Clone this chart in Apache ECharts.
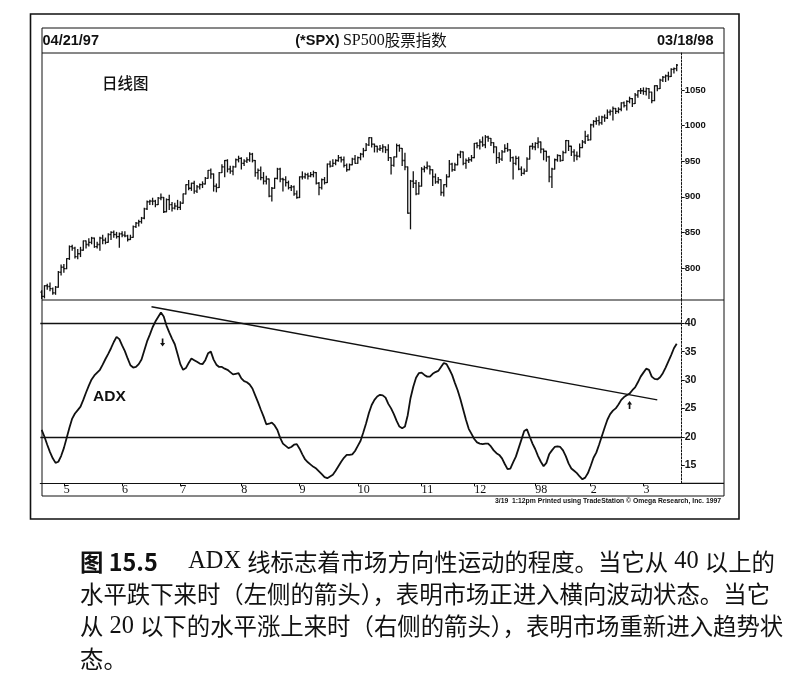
<!DOCTYPE html>
<html><head><meta charset="utf-8">
<script src="https://cdn.jsdelivr.net/npm/echarts@6/dist/echarts.min.js"></script>
<style>html,body{margin:0;padding:0;background:#fff}#c{width:790px;height:689px}</style>
</head><body><div id="c"></div>
<script>
// ---- Daily OHLC of SPX, 04/21/97 .. 03/18/98 ----
const op=[766,760,775,774,771,765,773,794,
801,799,813,830,828,816,820,825,838,833,836,842,830,833,842,839,836,847,850,847,844,
848,846,845,840,843,858,863,865,870,883,893,894,894,889,898,899,879,896,889,884,887,
885,891,904,917,912,919,908,914,917,918,926,937,932,915,913,934,942,951,939,936,942,952,
954,947,950,952,960,951,934,937,927,922,925,901,912,926,939,925,924,920,913,914,904,
899,928,928,931,929,931,934,919,913,924,920,946,943,947,951,955,952,944,938,945,953,
947,955,960,965,973,983,974,971,967,968,970,966,955,944,956,972,968,951,942,877,922,919,904,
915,939,941,943,938,928,921,924,906,917,928,946,938,945,959,963,947,951,952,
955,975,972,977,973,984,982,976,970,955,953,963,968,966,955,947,954,939,933,936,953,971,
970,975,977,967,964,956,928,939,952,958,951,962,979,971,963,958,957,969,977,985,
980,1001,1006,1007,1004,1012,1011,1019,1020,1024,1020,1023,1032,1028,1034,1038,1031,1043,1049,
1049,1048,1052,1047,1035,1056,1052,1064,1068,1070,1069,1079,1080];
const hi=[768,775,777,779,772,774,795,804,
805,813,831,832,829,826,829,838,838,841,843,842,836,843,846,842,848,851,852,850,849,
851,851,846,846,859,864,867,871,884,894,895,898,895,899,904,899,897,902,892,891,895,
893,904,917,923,919,922,916,918,921,927,937,939,932,918,934,945,951,952,943,943,953,957,
955,952,955,962,961,951,939,942,934,929,925,913,926,940,940,926,928,922,916,915,908,
928,935,933,933,934,936,934,920,925,927,946,950,952,952,958,956,956,946,946,954,958,
956,961,968,975,983,983,974,971,972,973,970,973,955,956,974,973,968,961,942,923,935,923,920,
941,943,949,943,938,932,927,924,917,931,951,947,947,960,964,963,953,955,958,
975,976,980,984,986,985,982,976,970,962,965,973,975,966,956,957,956,942,939,955,971,975,
976,983,977,967,964,957,940,953,959,958,964,979,979,971,966,963,974,979,992,987,
1002,1007,1011,1013,1013,1015,1022,1022,1026,1024,1025,1032,1033,1035,1040,1038,1045,1049,1052,
1053,1053,1052,1047,1056,1056,1065,1069,1071,1075,1080,1081,1086];
const lo=[757,758,770,768,763,763,773,790,
794,799,812,825,814,813,816,825,828,831,834,829,828,825,834,834,836,840,843,842,829,
844,844,838,840,843,857,859,863,869,882,889,889,886,889,896,878,879,882,880,883,882,
882,891,904,910,909,905,906,911,913,918,926,926,908,907,913,934,928,935,933,931,942,949,
939,944,948,950,949,929,925,924,918,918,900,894,912,925,921,908,915,911,909,902,898,
899,925,926,925,928,928,918,903,911,918,920,942,943,945,950,949,942,936,938,945,947,
947,952,956,965,972,970,963,963,965,963,962,951,932,943,956,964,944,938,877,855,913,903,904,
915,935,939,932,916,919,919,902,901,914,928,936,937,945,955,945,940,948,950,
955,969,967,971,969,978,972,962,947,948,951,963,964,950,925,945,938,930,932,936,953,967,
966,969,962,952,950,921,913,939,950,950,951,962,965,958,950,952,956,969,975,979,
980,998,1002,1001,1002,1006,1010,1015,1008,1017,1018,1021,1026,1022,1032,1027,1031,1040,1045,
1044,1043,1038,1032,1035,1049,1052,1062,1062,1064,1069,1074,1077];
const cl=[760,775,774,771,765,773,794,801,
799,813,830,828,816,820,825,838,833,836,842,830,833,842,839,836,847,850,847,844,848,
846,845,840,843,858,863,865,870,883,893,894,894,889,898,899,879,896,889,884,887,885,
891,904,917,912,919,908,914,917,918,926,937,932,915,913,934,942,951,939,936,942,952,954,
947,950,952,960,951,934,937,927,922,925,901,912,926,939,925,924,920,913,914,904,899,
928,928,931,929,931,934,919,913,924,920,946,943,947,951,955,952,944,938,945,953,947,
955,960,965,973,983,974,971,967,968,970,966,955,944,956,972,968,951,942,877,922,919,904,915,
939,941,943,938,928,921,924,906,917,928,946,938,945,959,963,947,951,952,955,
975,972,977,973,984,982,976,970,955,953,963,968,966,955,947,954,939,933,936,953,971,970,
975,977,967,964,956,928,939,952,958,951,962,979,971,963,958,957,969,977,985,980,
1001,1006,1007,1004,1012,1011,1019,1020,1024,1020,1023,1032,1028,1034,1038,1031,1043,1049,1049,
1048,1052,1047,1035,1056,1052,1064,1068,1070,1069,1079,1080,1085];
// ---- ADX, one value per trading day ----
const adx=[21.2,20.0,18.6,17.3,16.2,15.4,15.6,16.6,18.0,19.8,
21.6,23.2,24.1,24.7,25.3,26.5,27.8,29.0,30.1,30.8,
31.3,31.8,32.7,33.7,34.6,35.6,36.7,37.6,37.2,36.1,
35.1,33.8,32.6,32.2,32.3,32.8,33.6,35.2,36.8,38.0,
39.3,40.3,41.1,41.9,41.2,39.6,38.4,37.3,36.3,34.6,
32.8,31.8,32.1,33.0,33.8,33.5,33.2,32.9,32.8,33.5,
34.7,35.0,33.6,32.7,32.3,32.3,32.0,31.8,31.4,31.0,
31.1,31.2,30.3,29.8,29.6,29.2,28.5,27.3,26.1,24.8,
23.6,22.2,22.3,22.5,22.0,21.2,19.8,18.8,18.4,18.0,
18.2,18.6,18.7,17.9,16.9,16.0,15.5,15.1,14.7,14.4,
13.9,13.4,12.9,12.7,13.0,13.3,14.0,14.8,15.6,16.3,
16.8,16.8,16.9,17.5,18.4,19.3,20.8,22.4,24.2,25.6,
26.5,27.1,27.4,27.3,26.9,25.8,25.0,24.0,22.8,21.8,
21.5,21.8,23.8,26.8,28.8,30.4,31.2,31.3,30.9,30.6,
30.6,31.1,31.4,31.6,32.3,33.0,32.8,31.9,30.9,29.5,
28.2,26.6,24.8,23.0,21.4,20.5,19.6,19.0,18.8,18.7,
18.8,18.8,18.3,17.6,17.1,16.8,16.2,15.2,14.3,14.4,
15.5,16.5,18.0,19.5,21.0,21.3,20.0,18.8,17.8,16.6,
15.6,14.8,15.4,16.9,17.6,18.2,18.3,18.2,17.6,16.6,
15.3,14.4,14.0,13.6,13.0,12.5,12.8,13.6,14.9,16.3,
17.2,18.6,20.1,21.6,23.0,24.0,24.6,25.0,25.7,26.5,
27.0,27.3,27.6,28.2,28.7,29.6,30.6,31.3,32.0,31.8,
30.6,30.2,30.1,30.5,31.2,32.2,33.3,34.4,35.6,36.4];
// ---- axes / annotations ----
const monthStarts=[8,29,50,72,93,114,137,156,178,198,217];
const monthLabels=['5','6','7','8','9','10','11','12','98','2','3'];
const priceTicks=[800,850,900,950,1000,1050];
const adxTicks=[15,20,25,30,35,40];
const adxLevels=[20,40];
const trendLine=[[39.6,42.9],[222,26.5]];
const arrowDown=[43.6,36.6];
const arrowUp=[212,25.6];
const startDate='04/21/97', endDate='03/18/98';
const captionLines=[
 '{b|图 15.5}{s|     ADX }线标志着市场方向性运动的程度。当它从{s| 40 }以上的',
 '水平跌下来时（左侧的箭头），表明市场正进入横向波动状态。当它',
 '从{s| 20 }以下的水平涨上来时（右侧的箭头），表明市场重新进入趋势状',
 '态。'
];

const chart=echarts.init(document.getElementById('c'));
const bars=cl.map((c,i)=>[i,op[i],hi[i],lo[i],c]);
const L=40.3, AX=681.7, R=790-AX;
const SANS='"Liberation Sans", Arial, sans-serif';
const SERIF='"Liberation Serif", "Times New Roman", serif';
const CJK='"Noto Sans CJK SC", sans-serif';
const blk='#111';
const arrowPath='path://M2,0 L4,0 L4,5 L6,5 L3,9 L0,5 L2,5 Z';

function renderBar(params, api){
  const x=api.value(0);
  const pO=api.coord([x,api.value(1)]), pH=api.coord([x,api.value(2)]),
        pL=api.coord([x,api.value(3)]), pC=api.coord([x,api.value(4)]);
  const t=1.3, st={stroke:blk,lineWidth:1.3};
  return {type:'group',children:[
    {type:'line',shape:{x1:pH[0],y1:pH[1]-0.5,x2:pL[0],y2:pL[1]+0.5},style:st},
    {type:'line',shape:{x1:pO[0]-t,y1:pO[1],x2:pO[0],y2:pO[1]},style:st},
    {type:'line',shape:{x1:pC[0],y1:pC[1],x2:pC[0]+t,y2:pC[1]},style:st}
  ]};
}

const gText=(text,x,y,font,align,extra)=>Object.assign({type:'text',silent:true,
  style:Object.assign({text,x,y,font,fill:blk,textAlign:align||'left',textVerticalAlign:'middle'},extra||{})});
const gLine=(x1,y1,x2,y2,w)=>({type:'line',silent:true,shape:{x1,y1,x2,y2},style:{stroke:blk,lineWidth:w||1}});
const CAP=23.4;

const option={
  animation:false,
  backgroundColor:'#fff',
  grid:[{left:L,right:R,top:53,height:247},{left:L,right:R,top:300,height:183.3}],
  xAxis:[
    {type:'value',gridIndex:0,min:-0.5,max:230.8,show:false},
    {type:'value',gridIndex:1,min:-0.5,max:230.8,position:'bottom',
     axisLine:{show:true,onZero:false,lineStyle:{color:blk,width:1.2}},
     axisTick:{show:true,customValues:monthStarts,length:3,lineStyle:{color:blk}},
     axisLabel:{customValues:monthStarts,formatter:v=>monthLabels[monthStarts.indexOf(v)],
       align:'left',margin:1,color:blk,fontFamily:SERIF,fontSize:12},
     splitLine:{show:false}}
  ],
  yAxis:[
    {type:'value',gridIndex:0,position:'right',min:755,max:1102,
     axisLine:{show:true,onZero:false,lineStyle:{color:blk,width:1,type:[2,1.5]}},
     axisTick:{show:true,customValues:priceTicks,length:3,lineStyle:{color:blk}},
     axisLabel:{customValues:priceTicks,formatter:v=>String(v),margin:3,color:blk,fontFamily:SANS,fontWeight:'bold',fontSize:9.5},
     splitLine:{show:false}},
    {type:'value',gridIndex:1,position:'right',min:11.8,max:44.1,
     axisLine:{show:true,onZero:false,lineStyle:{color:blk,width:1,type:[2,1.5]}},
     axisTick:{show:true,customValues:adxTicks,length:3,lineStyle:{color:blk}},
     axisLabel:{customValues:adxTicks,formatter:v=>String(v),margin:3,color:blk,fontFamily:SANS,fontWeight:'bold',fontSize:10.5},
     splitLine:{show:false}}
  ],
  series:[
    {type:'custom',xAxisIndex:0,yAxisIndex:0,renderItem:renderBar,
     encode:{x:0,y:[1,2,3,4]},data:bars,silent:true},
    {type:'line',xAxisIndex:1,yAxisIndex:1,data:adx.map((v,i)=>[i,v]),
     showSymbol:false,symbol:'none',silent:true,
     lineStyle:{color:blk,width:1.8},
     markLine:{silent:true,symbol:'none',label:{show:false},animation:false,
       lineStyle:{color:blk,width:1.4,type:'solid'},
       data:adxLevels.map(v=>({yAxis:v}))},
     markPoint:{silent:true,label:{show:false},itemStyle:{color:blk},
       data:[{coord:arrowDown,symbol:arrowPath,symbolSize:[5,8],symbolRotate:0},
             {coord:arrowUp,symbol:arrowPath,symbolSize:[5,8],symbolRotate:180}]}},
    {type:'line',xAxisIndex:1,yAxisIndex:1,data:trendLine,showSymbol:false,symbol:'none',
     silent:true,lineStyle:{color:blk,width:1.5}}
  ],
  graphic:[
    {type:'rect',silent:true,shape:{x:30.5,y:14,width:708.5,height:505},style:{fill:null,stroke:blk,lineWidth:1.6}},
    {type:'rect',silent:true,shape:{x:42,y:28,width:682,height:468},style:{fill:null,stroke:blk,lineWidth:1}},
    gLine(42,53,724,53,1),
    gLine(42,300,724,300,1.2),
    gLine(AX,483.3,724,483.3,1.2),
    gText(startDate,42.5,40.5,'bold 14.5px '+SANS,'left'),
    gText(endDate,713.5,40.5,'bold 14.5px '+SANS,'right'),
    {type:'text',silent:true,style:{text:'{a|(*SPX)} {b|SP500}{c|股票指数}',x:371,y:40.5,
      textAlign:'center',textVerticalAlign:'middle',fill:blk,
      rich:{a:{font:'bold 14.5px '+SANS,fill:blk},b:{font:'16px '+SERIF,fill:blk},c:{font:'15.5px '+CJK,fill:blk}}}},
    gText('日线图',102,83,'500 15.5px '+CJK,'left'),
    gText('ADX',93,397,'bold 15.5px '+SANS,'left'),
    gText('3/19  1:12pm Printed using TradeStation © Omega Research, Inc. 1997',721,501.5,'bold 6.8px '+SANS,'right'),
    ...captionLines.map((t,i)=>({type:'text',silent:true,style:{text:t,x:80,y:562+i*32.3,
      textAlign:'left',textVerticalAlign:'middle',fill:blk,font:CAP+'px '+CJK,
      rich:{b:{font:'bold '+CAP+'px '+CJK,fill:blk},s:{font:(CAP+1)+'px '+SERIF,fill:blk}}}}))
  ]
};
chart.setOption(option);
</script></body></html>
